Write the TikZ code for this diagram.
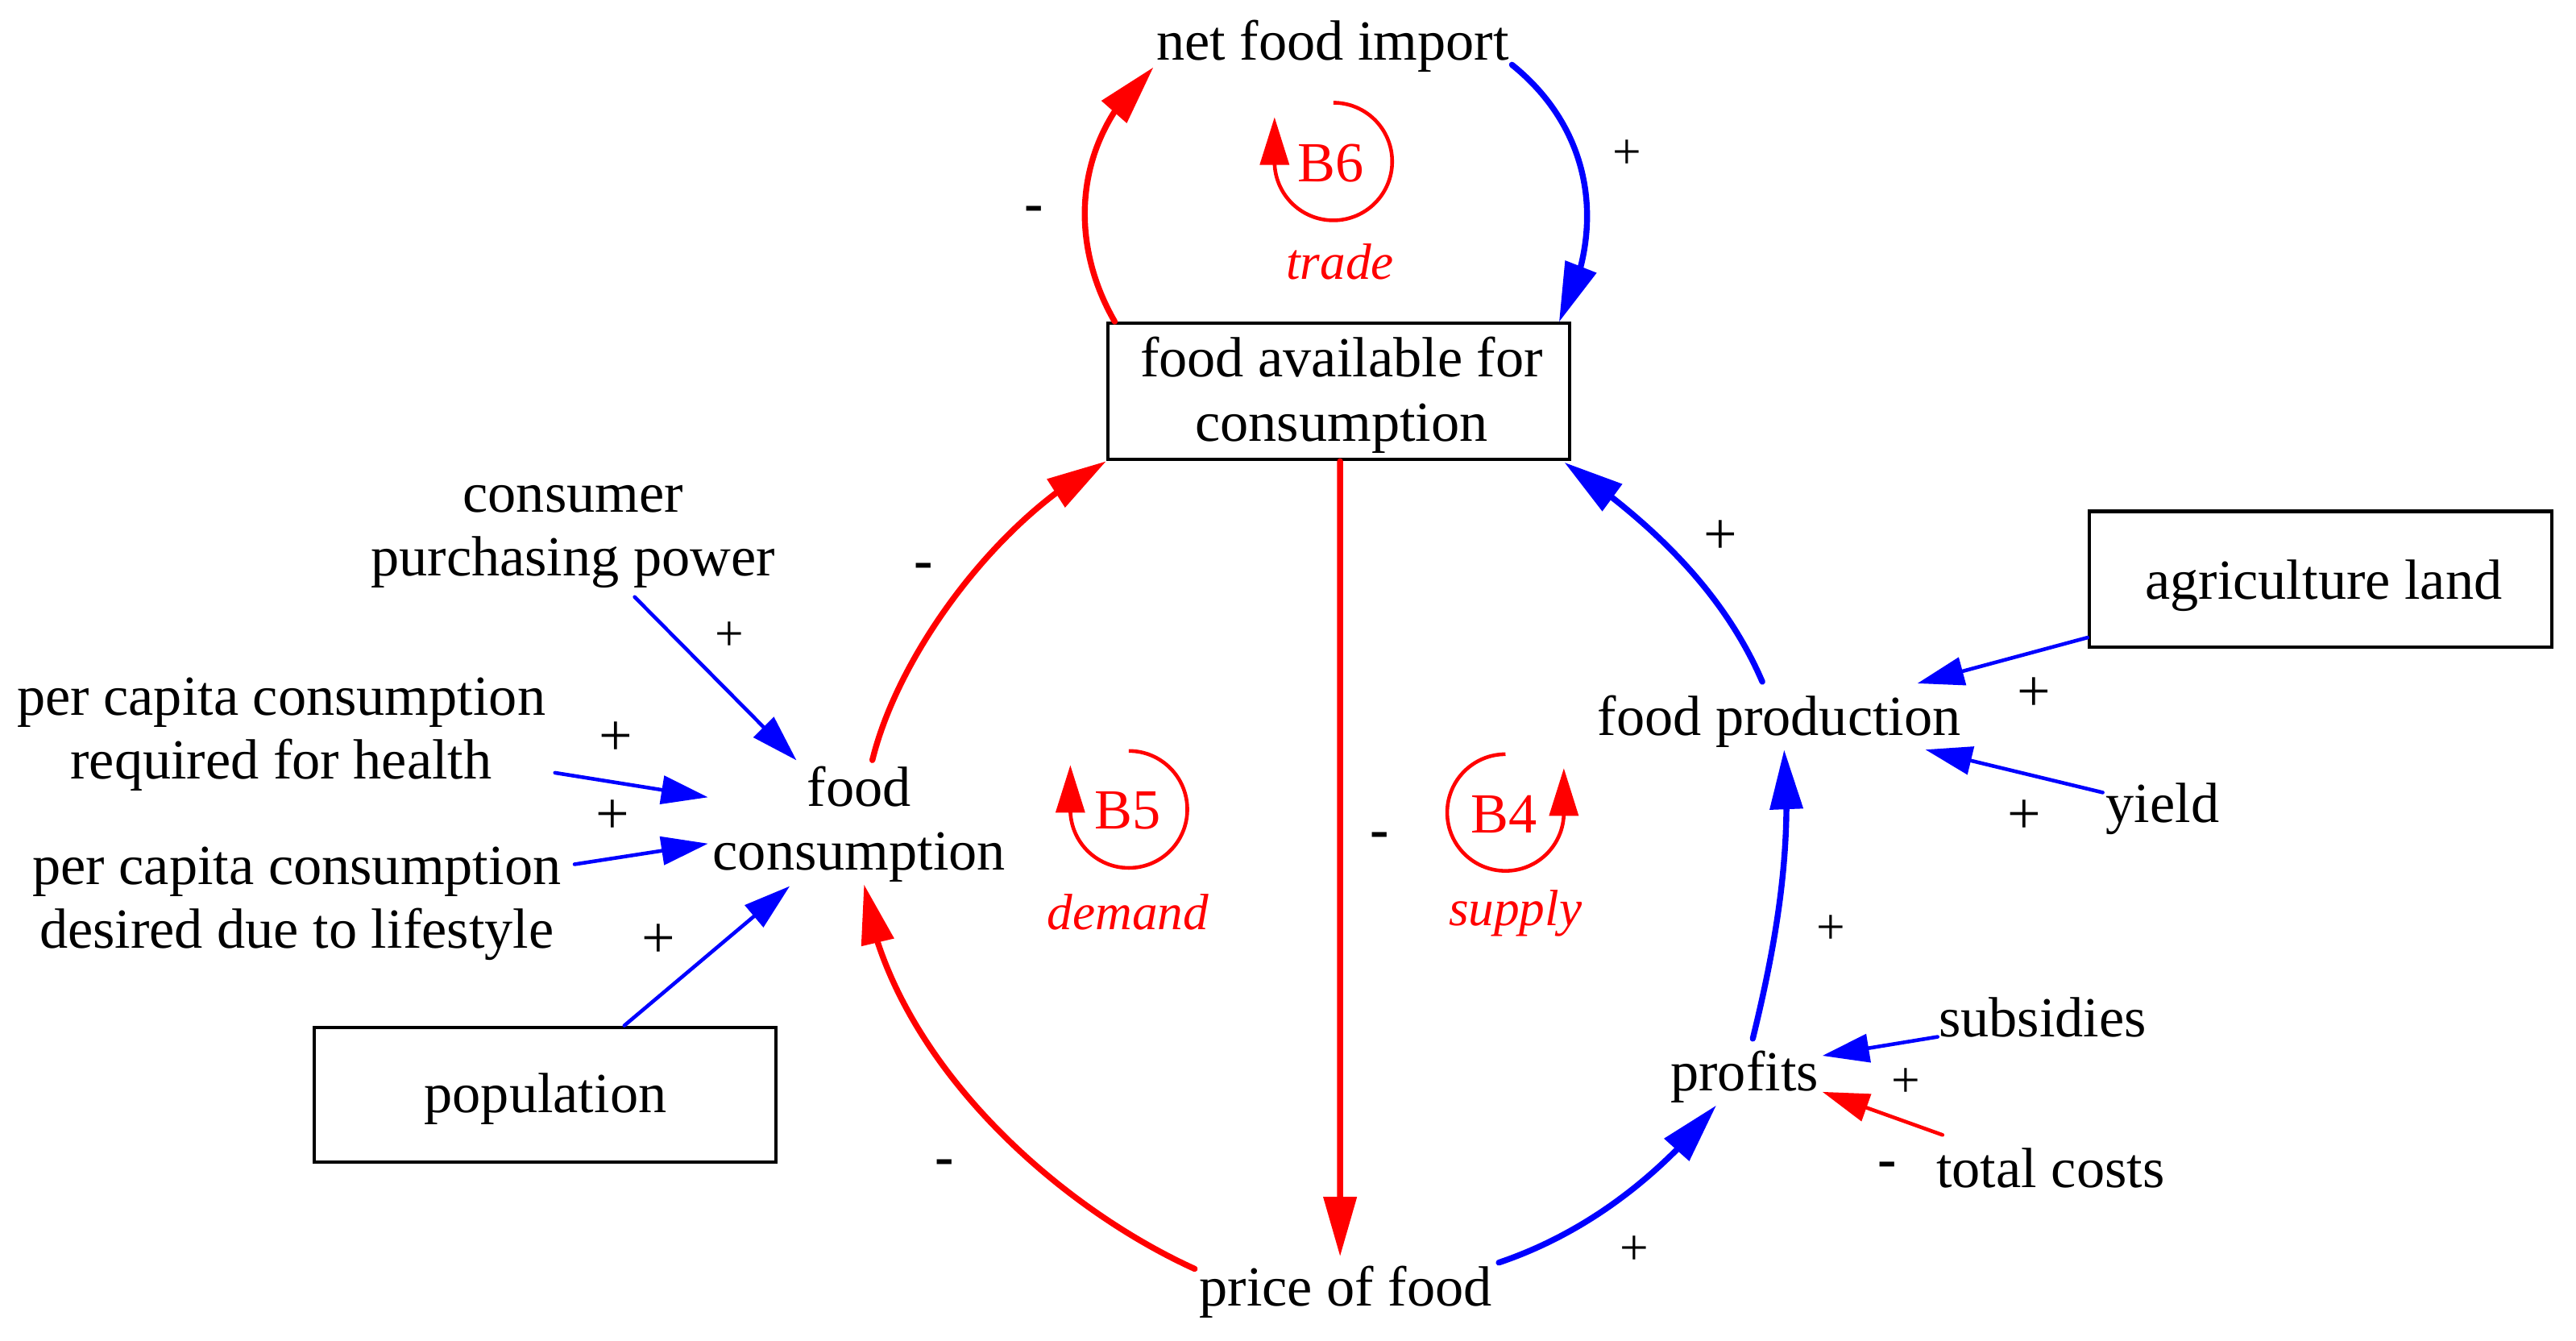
\documentclass[tikz,border=0pt]{standalone}
\usepackage{fontspec}
\setmainfont{Liberation Serif}
\usetikzlibrary{arrows.meta,bending}
\definecolor{cr}{RGB}{255,0,0}
\definecolor{cb}{RGB}{0,0,255}
\begin{document}
\begin{tikzpicture}[x=0.02039cm, y=-0.02039cm,
  txt/.style={inner sep=0pt, align=center, font=\fontsize{20}{22.5}\selectfont,
    execute at begin node=\strut, execute at end node=\strut},
  boxnode/.style={draw, line width=1.2pt, inner sep=0pt, minimum width=5.73cm, minimum height=1.69cm},
  thk/.style={line width=2.1pt, line cap=round, -{Triangle[length=0.74cm,width=0.40cm]}},
  thn/.style={line width=1.3pt, line cap=round, -{Triangle[length=0.58cm,width=0.35cm]}},
  sgn/.style={inner sep=0pt, font=\fontsize{20}{22.5}\selectfont\bfseries},
  psm/.style={inner sep=0pt, font=\fontsize{18}{20}\selectfont},
  pbg/.style={inner sep=0pt, font=\fontsize{21}{24}\selectfont},
  loopl/.style={text=cr, inner sep=0pt, anchor=base, font=\fontsize{20}{22.5}\selectfont},
  loopn/.style={text=cr, inner sep=0pt, anchor=base, font=\fontsize{18}{20}\selectfont\itshape},
  loopc/.style={draw=cr, fill=none, line width=1.3pt, -{Triangle[length=0.591cm,width=0.357cm,fill=cr]}}]
\fill[white] (0,0) rectangle (1568,816);
\useasboundingbox (0,0) rectangle (1568,816);

% boxes
\node[boxnode] (fa) at (814.9,238.2) {};
\node[txt] (fat) at (816.6,242.6) {food available for\\consumption};
\node[boxnode, minimum width=5.727cm, minimum height=1.676cm] (pop) at (331.9,666.3) {};
\node[txt] (popt) at (332,669.55) {population};
\node[boxnode, minimum width=5.74cm, minimum height=1.682cm] (al) at (1412.5,352.4) {};
\node[txt] (alt) at (1414.4,356.85) {agriculture land};

% text variables
\node[txt] (nfi) at (811.3,28.9) {net food import};
\node[txt] (cpp) at (348.8,328.7) {consumer\\purchasing power};
\node[txt] (pch) at (171.2,448.9) {per capita consumption\\required for health};
\node[txt] (pcd) at (180.6,552.25) {per capita consumption\\desired due to lifestyle};
\node[txt] (fc) at (523,503.55) {food\\consumption};
\node[txt] (pf) at (819.1,786.95) {price of food};
\node[txt] (pr) at (1061.9,655.95) {profits};
\node[txt] (sub) at (1243.4,623.25) {subsidies};
\node[txt] (tc) at (1248.1,714.85) {total costs};
\node[txt] (fp) at (1083,439.95) {food production};
\node[txt] (yl) at (1316.4,492.85) {yield};

% loop markers
\draw[loopc] (811.6,98.3) ++(0,-35.8) arc[start angle=-90, end angle=180, radius=35.8] -- ++(0,-27);
\draw[loopc] (687.1,492.6) ++(0,-35.6) arc[start angle=-90, end angle=180, radius=35.6] -- ++(0,-27);
\draw[loopc] (916.4,494.5) ++(0,-35.5) arc[start angle=270, end angle=0, radius=35.5] -- ++(0,-27);
\node[loopl] (b6) at (810,110.7) {B6};
\node[loopl] (b5) at (686.6,504.5) {B5};
\node[loopl] (b4) at (915.5,507) {B4};
\node[loopn] (trade) at (815.6,169.9) {trade};
\node[loopn] (demand) at (686.6,565.8) {demand};
\node[loopn] (supply) at (922.4,563.3) {supply};

% polarity signs
\node[sgn] (m1) at (629.5,130.3) {-};
\node[psm] (p2) at (990.4,93.9) {+};
\node[sgn] (m3) at (562,347.4) {-};
\node[sgn] (m4) at (839.8,511.5) {-};
\node[sgn] (m5) at (574.7,710.4) {-};
\node[psm] (p6) at (994.6,760.9) {+};
\node[psm] (p7) at (1114.4,566) {+};
\node[pbg] (p8) at (1047.2,327) {+};
\node[pbg] (p9) at (1238.1,422.4) {+};
\node[pbg] (p10) at (1232,497) {+};
\node[psm] (p11) at (1160,658.8) {+};
\node[sgn] (m12) at (1148.7,712) {-};
\node[psm] (p13) at (444.1,387.3) {+};
\node[pbg] (p14) at (374.7,449.8) {+};
\node[pbg] (p15) at (372.8,497.1) {+};
\node[pbg] (p16) at (401,572.5) {+};

% thick loop connectors
\draw[thk, cr] ([shift={(5.2,0)}]fa.north west) .. controls +(-30.5,-52.8) and +(-46.4,39.7) .. ([shift={(-109.2,12)}]nfi.center);
\draw[thk, cb] ([shift={(109,10.5)}]nfi.center) .. controls +(49.1,39.4) and +(30,-56) .. ([shift={(-7.5,0.3)}]fa.north east);
\draw[thk, cr] ([shift={(8,-40.95)}]fc.center) .. controls +(16.7,-68) and +(-62.4,31.7) .. (fa.south west);
\draw[thk, cr] ([shift={(0.8,0)}]fa.south) -- ([shift={(-3.4,-22.25)}]pf.center);
\draw[thk, cr] ([shift={(-91.9,-14.75)}]pf.center) .. controls +(-86.5,-39.3) and +(14.9,104) .. ([shift={(2.9,34.65)}]fc.center);
\draw[thk, cb] ([shift={(93.2,-18.55)}]pf.center) .. controls +(52.7,-17.8) and +(-34.8,43.5) .. ([shift={(-17.2,16.75)}]pr.center);
\draw[thk, cb] ([shift={(5,-23.85)}]pr.center) .. controls +(14.3,-58.3) and +(5.2,59.8) .. ([shift={(3,16.25)}]fp.center);
\draw[thk, cb] ([shift={(-10.3,-25.05)}]fp.center) .. controls +(-24.3,-56.6) and +(50.8,34.9) .. ([shift={(-4.3,0.7)}]fa.south east);

% thin input connectors
\draw[thn, cb] ([shift={(0,35.6)}]al.west) -- ([shift={(84.1,-24.05)}]fp.center);
\draw[thn, cb] ([shift={(-36.5,-10.55)}]yl.center) -- ([shift={(89,16.25)}]fp.center);
\draw[thn, cb] ([shift={(-64,7.75)}]sub.center) -- ([shift={(47.4,-13.45)}]pr.center);
\draw[thn, cr] ([shift={(-65.7,-24.15)}]tc.center) -- ([shift={(47.4,8.55)}]pr.center);
\draw[thn, cb] ([shift={(37.5,34.6)}]cpp.center) -- ([shift={(-38.2,-40.85)}]fc.center);
\draw[thn, cb] ([shift={(166.6,21.4)}]pch.center) -- ([shift={(-92,-18.35)}]fc.center);
\draw[thn, cb] ([shift={(169.1,-26.25)}]pcd.center) -- ([shift={(-92,9.85)}]fc.center);
\draw[thn, cb] ([shift={(48.1,0)}]pop.north) -- ([shift={(-42.3,35.75)}]fc.center);
\end{tikzpicture}
\end{document}
